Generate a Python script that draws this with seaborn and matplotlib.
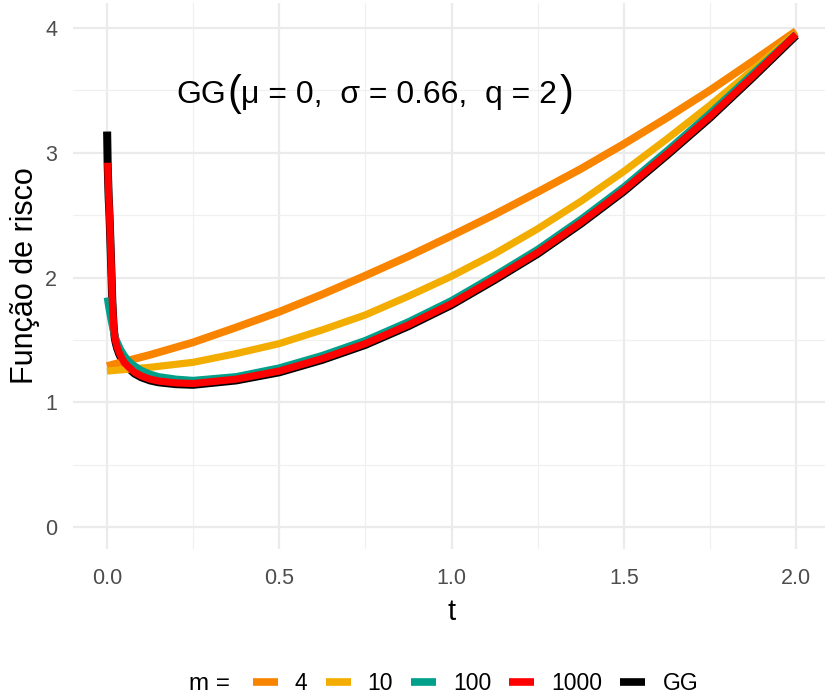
import matplotlib
matplotlib.use("Agg")
import matplotlib.pyplot as plt
import seaborn as sns
import pandas as pd
from matplotlib.ticker import FixedLocator
from matplotlib.lines import Line2D
from matplotlib.transforms import IdentityTransform

# ---- data ----
t_m4 = [0, 0.125, 0.25, 0.375, 0.5, 0.625, 0.75, 0.875, 1.0, 1.125, 1.25, 1.375,
        1.5, 1.625, 1.75, 1.875, 2.0]
h_m4 = [1.29, 1.38, 1.48, 1.60, 1.725, 1.865, 2.015, 2.17, 2.335, 2.505, 2.685, 2.87,
        3.07, 3.28, 3.50, 3.735, 3.975]

t_m10 = [0, 0.125, 0.25, 0.375, 0.5, 0.625, 0.75, 0.875, 1.0, 1.125, 1.25, 1.375,
         1.5, 1.625, 1.75, 1.875, 2.0]
h_m10 = [1.25, 1.28, 1.32, 1.39, 1.47, 1.58, 1.70, 1.85, 2.01, 2.19, 2.39, 2.61,
         2.85, 3.11, 3.38, 3.665, 3.96]

t_m100 = [0.001, 0.005, 0.01, 0.015, 0.02, 0.025, 0.03, 0.04, 0.05, 0.06, 0.075, 0.1,
          0.125, 0.15, 0.2, 0.25, 0.375, 0.5, 0.625, 0.75, 0.875, 1.0, 1.125, 1.25,
          1.375, 1.5, 1.625, 1.75, 1.875, 2.0]
h_m100 = [1.84, 1.77, 1.69, 1.62, 1.56, 1.515, 1.48, 1.42, 1.375, 1.34, 1.30, 1.255,
          1.225, 1.205, 1.185, 1.175, 1.205, 1.275, 1.375, 1.495, 1.645, 1.815, 2.015, 2.225,
          2.465, 2.725, 3.015, 3.315, 3.635, 3.95]

t_m1000 = [0.002, 0.005, 0.0075, 0.01, 0.0135, 0.0155, 0.018, 0.02, 0.023, 0.026, 0.03,
           0.035, 0.04, 0.05, 0.06, 0.08, 0.1, 0.125, 0.15, 0.2, 0.25, 0.375, 0.5, 0.625,
           0.75, 0.875, 1.0, 1.125, 1.25, 1.375, 1.5, 1.625, 1.75, 1.875, 2.0]
h_m1000 = [2.92, 2.65, 2.50, 2.30, 2.00, 1.82, 1.68, 1.59, 1.52, 1.48, 1.44,
           1.40, 1.37, 1.32, 1.29, 1.24, 1.21, 1.185, 1.17, 1.155, 1.15, 1.185, 1.25, 1.35,
           1.47, 1.62, 1.79, 1.99, 2.20, 2.44, 2.70, 2.99, 3.29, 3.615, 3.95]

t_gg = [0.0005, 0.002, 0.005, 0.0075, 0.01, 0.0135, 0.0155, 0.018, 0.02, 0.023, 0.026, 0.03,
        0.035, 0.04, 0.05, 0.06, 0.08, 0.1, 0.125, 0.15, 0.2, 0.25, 0.375, 0.5, 0.625,
        0.75, 0.875, 1.0, 1.125, 1.25, 1.375, 1.5, 1.625, 1.75, 1.875, 2.0]
h_gg = [3.17, 2.91, 2.64, 2.49, 2.29, 1.99, 1.81, 1.67, 1.58, 1.51, 1.47, 1.43,
        1.39, 1.36, 1.31, 1.28, 1.23, 1.20, 1.175, 1.16, 1.145, 1.14, 1.175, 1.24, 1.34,
        1.46, 1.61, 1.78, 1.98, 2.19, 2.43, 2.69, 2.98, 3.28, 3.605, 3.94]

labels = ["4", "10", "100", "1000", "GG"]
colors = ["#F98400", "#F2AD00", "#00A08A", "#FF0000", "#000000"]
x_ticks = [0.0, 0.5, 1.0, 1.5, 2.0]
x_tick_labels = ["0.0", "0.5", "1.0", "1.5", "2.0"]
y_ticks = [0, 1, 2, 3, 4]
y_tick_labels = ["0", "1", "2", "3", "4"]

series = {
    "4": (t_m4, h_m4),
    "10": (t_m10, h_m10),
    "100": (t_m100, h_m100),
    "1000": (t_m1000, h_m1000),
    "GG": (t_gg, h_gg),
}

sns.set_theme(style="white")
plt.rcParams["font.family"] = ["Liberation Sans", "DejaVu Sans"]
plt.rcParams["text.color"] = "black"

fig = plt.figure(figsize=(8.25, 7.0), dpi=100)
W, H = 825, 700
left, right, top, bottom = 72.5, 830.5, 3, 549
ax = fig.add_axes([left / W, 1 - bottom / H, (right - left) / W, (bottom - top) / H])

ax.set_xlim(-0.1, 2.1)
ax.set_ylim(-(549 - 527) / 124.75, 4 + (28 - 3) / 124.75)

ax.xaxis.set_major_locator(FixedLocator(x_ticks))
ax.yaxis.set_major_locator(FixedLocator(y_ticks))
ax.xaxis.set_minor_locator(FixedLocator([0.25, 0.75, 1.25, 1.75]))
ax.yaxis.set_minor_locator(FixedLocator([0.5, 1.5, 2.5, 3.5]))
ax.grid(which="major", color="#EBEBEB", linewidth=1.6)
ax.grid(which="minor", color="#F0F0F0", linewidth=0.9)
ax.set_axisbelow(True)
for s in ax.spines.values():
    s.set_visible(False)

order = ["GG", "4", "10", "100", "1000"]
lw = {"4": 5.6, "10": 5.2, "100": 5.2, "1000": 5.2, "GG": 5.8}
for lab in order:
    t, h = series[lab]
    df = pd.DataFrame({"t": t, "h": h})
    sns.lineplot(data=df, x="t", y="h", ax=ax, color=colors[labels.index(lab)],
                 linewidth=lw[lab], solid_capstyle="butt", solid_joinstyle="round",
                 sort=False, estimator=None)

ax.set_xticks(x_ticks)
ax.set_xticklabels(x_tick_labels)
ax.set_yticks(y_ticks)
ax.set_yticklabels(y_tick_labels)
ax.tick_params(axis="both", which="both", length=0, labelsize=15.5, labelcolor="#4D4D4D")
ax.tick_params(axis="y", pad=11)
ax.tick_params(axis="x", pad=14)

ax.set_xlabel("t", fontsize=21, color="black", labelpad=6)
ax.set_ylabel("Função de risco", fontsize=22, color="black", labelpad=4)

# annotation "GG(μ = 0,  σ = 0.66,  q = 2)" with taller parentheses (pixel placement)
fs = 23
yc = H - 95
idt = IdentityTransform()
fig.text(176, yc, "GG", fontsize=fs, ha="left", va="center", transform=idt, color="black")
fig.text(227, yc + 1, "(", fontsize=fs * 1.3, ha="left", va="center", transform=idt,
         color="black")
fig.text(241, yc, "μ = 0,  σ = 0.66,  q = 2", fontsize=fs, ha="left", va="center",
         transform=idt, color="black")
fig.text(560, yc + 1, ")", fontsize=fs * 1.3, ha="left", va="center", transform=idt,
         color="black")

leg_handles = [Line2D([0], [0], color=c, linewidth=5.5, solid_capstyle="butt") for c in colors]
fig.legend(leg_handles, labels, ncol=5, loc="center", bbox_to_anchor=(0.5764, 1 - 684 / H),
           frameon=False, fontsize=16.5, handlelength=1.09, handletextpad=0.74,
           columnspacing=0.79, borderpad=0, borderaxespad=0, labelcolor="black")
fig.text(210 / W, 1 - 684 / H, "m =", fontsize=17.5, ha="center", va="center", color="black")

fig.savefig("out.png", dpi=100)
